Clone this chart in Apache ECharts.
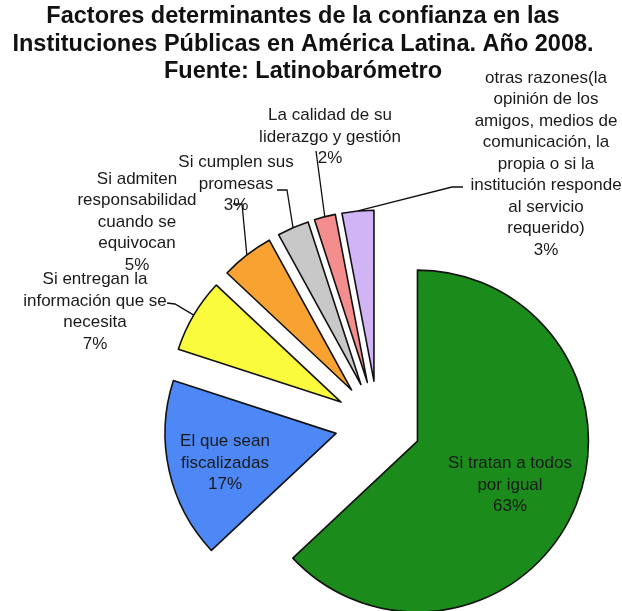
<!DOCTYPE html>
<html>
<head>
<meta charset="utf-8">
<script src="https://cdn.jsdelivr.net/npm/echarts@6/dist/echarts.min.js"></script>
<style>
    html, body { margin: 0; padding: 0; background: #fff; }
    #main { width: 622px; height: 611px; }
</style>
</head>
<body>
<div id="main"></div>
<script>
'use strict';
(function() {
    // datos
    var categorias = [
        'Si tratan a todos por igual',
        'El que sean fiscalizadas',
        'Si entregan la información que se necesita',
        'Si admiten responsabilidad cuando se equivocan',
        'Si cumplen sus promesas',
        'La calidad de su liderazgo y gestión',
        'otras razones(la opinión de los amigos, medios de comunicación, la propia o si la institución responde al servicio requerido)'
    ];
    var valores = [63, 17, 7, 5, 3, 2, 3];
    // texto de las etiquetas con saltos de línea
    var etiquetas = [
        'Si tratan a todos\npor igual',
        'El que sean\nfiscalizadas',
        'Si entregan la\ninformación que se\nnecesita',
        'Si admiten\nresponsabilidad\ncuando se\nequivocan',
        'Si cumplen sus\npromesas',
        'La calidad de su\nliderazgo y gestión',
        'otras razones(la\nopinión de los\namigos, medios de\ncomunicación, la\npropia o si la\ninstitución responde\nal servicio\nrequerido)'
    ];
    var colores = ['#1b8b1b', '#4d88f6', '#fbfb3e', '#f8a331', '#c8c8c8', '#f48d8d', '#d0b4f6'];

    // posición de etiquetas (centro del bloque) y guías
    var posEtiquetas = [[510, 485], [225, 463], [95, 312], [137, 222], [236, 184], [330, 137], [546, 164]];
    var guias = [null, null, [[175, 304], [167, 303]], [[242, 204], [233, 204]],
        [[287, 190], [277, 190]], [[316, 151], [316, 151]], [[452, 187], [463, 187]]];

    var fuente = '"Liberation Sans", Arial, Helvetica, sans-serif';
    var separacion = 43;

    // desplazamiento de cada porción separada
    var total = valores.reduce(function(a, b) { return a + b; }, 0);
    var acum = 0;
    var desplaz = valores.map(function(v) {
        var medio = (acum + v / 2) / total * 2 * Math.PI;
        acum += v;
        return [separacion * Math.sin(medio), -separacion * Math.cos(medio)];
    });

    var myChart = echarts.init(document.getElementById('main'));

    var centro = [378, 424];
    var radio = 171;

    var option = {
        animation: false,
        title: {
            text: 'Factores determinantes de la confianza en las\nInstituciones Públicas en América Latina. Año 2008.\nFuente: Latinobarómetro',
            left: 298,
            top: -2,
            textAlign: 'center',
            textStyle: {
                fontFamily: fuente,
                fontSize: 23.5,
                fontWeight: 'bold',
                lineHeight: 27.5,
                color: '#111'
            }
        },
        series: [{
            // porciones separadas
            type: 'pie',
            z: 2,
            center: centro,
            radius: radio,
            startAngle: 90,
            clockwise: true,
            selectedMode: 'multiple',
            selectedOffset: separacion,
            silent: true,
            label: { show: false },
            labelLine: { show: false },
            itemStyle: {
                borderColor: '#111',
                borderWidth: 1.6
            },
            data: valores.map(function(v, i) {
                return { value: v, name: categorias[i], selected: true, itemStyle: { color: colores[i] } };
            })
        }, {
            // capa transparente solo para las etiquetas
            type: 'pie',
            z: 5,
            center: centro,
            radius: radio,
            startAngle: 90,
            clockwise: true,
            silent: true,
            avoidLabelOverlap: false,
            itemStyle: { color: 'rgba(0,0,0,0)', borderWidth: 0 },
            label: {
                show: true,
                position: 'outside',
                fontFamily: fuente,
                fontSize: 17,
                lineHeight: 21.5,
                color: '#1a1a1a',
                align: 'center',
                formatter: function(p) {
                    return etiquetas[p.dataIndex] + '\n' + p.value + '%';
                }
            },
            labelLine: {
                show: true,
                lineStyle: { color: '#111', width: 1.3 }
            },
            labelLayout: function(p) {
                var i = p.dataIndex;
                var d = desplaz[i];
                var pos = posEtiquetas[i];
                var out = { x: pos[0], y: pos[1], align: 'center', verticalAlign: 'middle' };
                var g = guias[i];
                if (g && p.labelLinePoints) {
                    var p0 = p.labelLinePoints[0];
                    out.labelLinePoints = [[p0[0] + d[0], p0[1] + d[1]], g[0], g[1]];
                }
                return out;
            },
            data: valores.map(function(v, i) {
                return { value: v, name: categorias[i], labelLine: { show: guias[i] !== null } };
            })
        }]
    };

    myChart.setOption(option);
})();
</script>
</body>
</html>
